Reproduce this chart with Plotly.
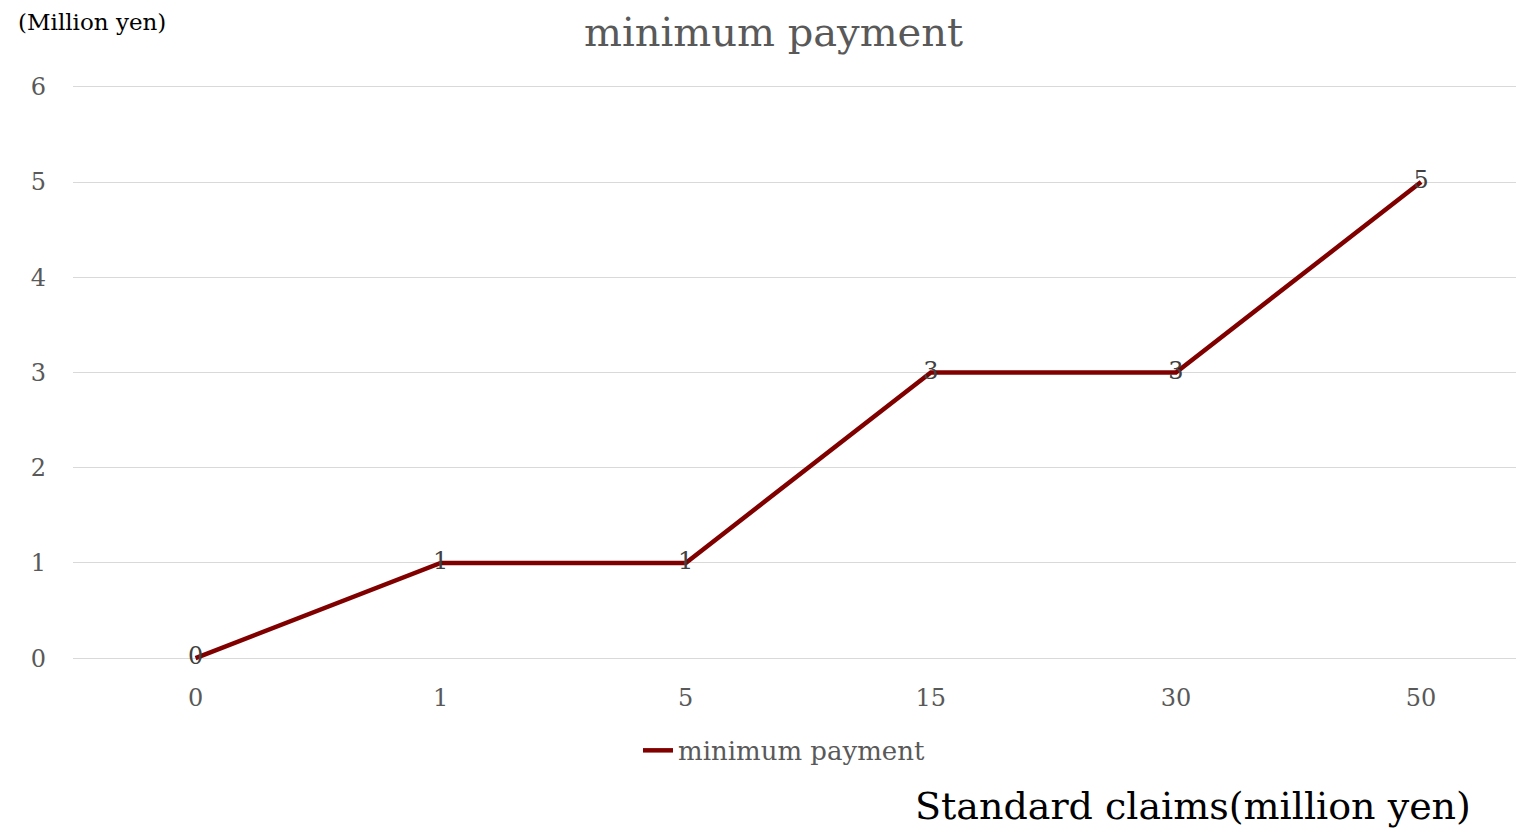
import plotly.graph_objects as go

# Dados
claims = ['0', '1', '5', '15', '30', '50']
min_payment = [0, 1, 1, 3, 3, 5]

FONT = 'DejaVu Serif'
GRAY = '#595959'

fig = go.Figure()
fig.add_trace(go.Scatter(
    x=claims,
    y=min_payment,
    mode='lines+text',
    name='minimum payment',
    line=dict(color='#800000', width=4.5),
    text=[str(v) for v in min_payment],
    textposition='middle center',
    textfont=dict(family=FONT, size=24, color='#404040'),
    cliponaxis=False,
))

# a pagina tem margem de 8px no body -> figura 1516x821
fig.update_layout(
    width=1516, height=821,
    paper_bgcolor='white', plot_bgcolor='white',
    font=dict(family=FONT, color=GRAY),
    margin=dict(l=65, r=0, t=76, b=168),
    title=dict(text='minimum payment', x=0.505, xanchor='center',
               y=0.971, yanchor='middle',
               font=dict(family=FONT, size=40, color=GRAY)),
    showlegend=True,
    legend=dict(orientation='h', x=0.49, xanchor='center', y=-0.155, yanchor='middle',
                font=dict(family=FONT, size=26, color=GRAY)),
    xaxis=dict(type='category', range=[-0.5, 5.42], showgrid=False, showline=False,
               ticks='', ticklabelstandoff=20,
               tickfont=dict(family=FONT, size=24, color=GRAY)),
    yaxis=dict(range=[-0.03, 6.03], dtick=1, gridcolor='#d9d9d9', gridwidth=1.3,
               zeroline=False, showline=False, ticks='',
               ticklabelstandoff=26,
               tickfont=dict(family=FONT, size=24, color=GRAY)),
)

fig.add_annotation(text='(Million yen)', xref='paper', yref='paper',
                   x=-0.039, y=1.107, xanchor='left', yanchor='middle', showarrow=False,
                   font=dict(family=FONT, size=23, color='black'))
fig.add_annotation(text='Standard claims(million yen)', xref='paper', yref='paper',
                   x=0.965, y=-0.252, xanchor='right', yanchor='middle', showarrow=False,
                   font=dict(family=FONT, size=38, color='black'))

fig.write_html('out.html')
